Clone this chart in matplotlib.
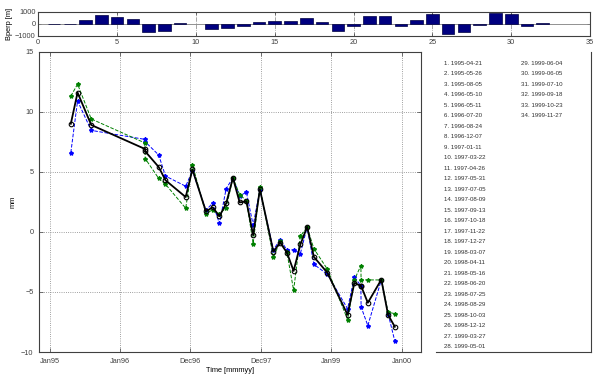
import numpy as np
import pandas as pd
import matplotlib
matplotlib.use("Agg")
import matplotlib.pyplot as plt
import matplotlib.dates as mdates

plt.rcParams['font.family'] = ['Liberation Sans', 'DejaVu Sans']

# acquisition dates
dates = ['1995-04-21', '1995-05-26', '1995-08-05', '1996-05-10', '1996-05-11',
         '1996-07-20', '1996-08-24', '1996-12-07', '1997-01-11', '1997-03-22',
         '1997-04-26', '1997-05-31', '1997-07-05', '1997-08-09', '1997-09-13',
         '1997-10-18', '1997-11-22', '1997-12-27', '1998-03-07', '1998-04-11',
         '1998-05-16', '1998-06-20', '1998-07-25', '1998-08-29', '1998-10-03',
         '1998-12-12', '1999-03-27', '1999-05-01', '1999-06-04', '1999-06-05',
         '1999-07-10', '1999-09-18', '1999-10-23', '1999-11-27']

# displacement [mm]
disp_mean = [9.0, 11.6, 8.9, 6.9, 6.7, 5.4, 4.3, 2.9, 5.2, 1.7,
             2.05, 1.3, 2.37, 4.5, 2.45, 2.55, -0.28, 3.55, -1.65, -0.89,
             -1.72, -3.25, -1.05, 0.42, -2.08, -3.4, -6.9, -4.25, -4.5, -4.5,
             -5.9, -3.97, -6.9, -7.9]
disp_a = [6.6, 10.9, 8.45, 7.7, 7.5, 6.4, 4.65, 3.8, 5.1, 1.8,
          2.4, 0.7, 3.6, 4.5, 3.0, 3.3, 0.56, 3.5, -1.5, -0.64,
          -1.5, -1.5, -1.8, 0.4, -2.7, -3.53, -6.4, -3.75, -4.5, -6.25,
          -7.8, -4.0, -6.8, -9.1]
disp_b = [11.3, 12.3, 9.4, 7.4, 6.1, 4.45, 3.97, 1.97, 5.6, 1.5,
          1.85, 1.5, 2.0, 4.5, 3.1, 2.6, -0.97, 3.75, -2.1, -0.8,
          -1.7, -4.86, -0.36, 0.4, -1.4, -3.1, -7.3, -4.0, -2.8, -4.0,
          -4.0, -4.0, -6.7, -6.8]

# perpendicular baselines [m], scene 10 is the master
bperp = [-20, -20, 330, 720, 580, 415, -700, -580, 110, np.nan,
         -390, -300, -190, 170, 220, 220, 470, 170, -580, -190,
         660, 660, -190, 300, 800, -860, -690, -100, 890, 800,
         -190, 80]

tick_dates = ['1995-01-01', '1996-01-01', '1996-12-31', '1997-12-31', '1999-01-01', '2000-01-01']
tick_labels = ['Jan95', 'Jan96', 'Dec96', 'Dec97', 'Jan99', 'Jan00']

t = mdates.date2num(pd.to_datetime(dates))
edge = '#404040'
fs = 5.3

fig = plt.figure(figsize=(5.93, 3.76), dpi=100)

# --- baseline bars ---
axb = fig.add_axes([0.0646, 0.9043, 0.9304, 0.0638])
idx = np.arange(1, len(bperp) + 1)
bp = np.array(bperp, dtype=float)
ok = ~np.isnan(bp)
axb.set_axisbelow(True)
axb.bar(idx[ok], bp[ok], width=0.8, color='#000080', edgecolor='#000040', linewidth=0.5, zorder=3)
axb.axhline(0, color='#808080', linewidth=0.6, zorder=1)
axb.set_xlim(0, 35)
axb.set_ylim(-1000, 1000)
axb.set_xticks(np.arange(0, 36, 5))
axb.set_yticks([-1000, 0, 1000])
axb.grid(axis='x', color='#808080', linestyle='-.', linewidth=0.5)
axb.set_ylabel('Bperp [m]', fontsize=fs, labelpad=1)
axb.tick_params(labelsize=fs, direction='in', length=2, width=0.5, pad=2,
                top=True, right=True, colors=edge)
for s in axb.spines.values():
    s.set_color(edge)
    s.set_linewidth(0.8)

# --- displacement time series ---
ax = fig.add_axes([0.0658, 0.0638, 0.6442, 0.7987])
ax.plot(t, disp_a, color='#0000ff', linestyle='--', linewidth=0.7,
        marker='*', markersize=3)
ax.plot(t, disp_b, color='#008000', linestyle='--', linewidth=0.7,
        marker='*', markersize=3)
ax.plot(t, disp_mean, color='black', linewidth=1.3, marker='o',
        markersize=3.3, markerfacecolor='none', markeredgewidth=0.8)
ax.set_xlim(mdates.date2num(pd.Timestamp('1994-11-07')),
            mdates.date2num(pd.Timestamp('2000-04-11')))
ax.set_ylim(-10, 15)
ax.set_xticks(mdates.date2num(pd.to_datetime(tick_dates)))
ax.set_xticklabels(tick_labels)
ax.set_yticks(np.arange(-10, 16, 5))
ax.grid(True, color='#808080', linestyle=':', linewidth=0.6)
ax.set_xlabel('Time [mmmyy]', fontsize=fs, labelpad=2)
ax.set_ylabel('mm', fontsize=fs, labelpad=3)
ax.tick_params(labelsize=fs, direction='in', length=3, width=0.5, pad=4,
               top=True, right=True, colors=edge)
for s in ax.spines.values():
    s.set_color(edge)
    s.set_linewidth(0.8)

# --- list of acquisitions ---
axl = fig.add_axes([0.735, 0.0638, 0.261, 0.7987])
axl.set_xlim(0, 1)
axl.set_ylim(0, 1)
axl.set_xticks([])
axl.set_yticks([])
for side in ['left', 'top']:
    axl.spines[side].set_visible(False)
for side in ['bottom', 'right']:
    axl.spines[side].set_color(edge)
    axl.spines[side].set_linewidth(0.8)
for i, d in enumerate(dates):
    col = 0 if i < 28 else 1
    row = i if i < 28 else i - 28
    x = 0.05 if col == 0 else 0.55
    y = 1 - (11.6 + row * 10.5) / 300.3
    axl.text(x, y, f'{i + 1}. {d}', fontsize=4.4, color='#303030',
             va='center', ha='left')

fig.savefig('out.png', dpi=100)
